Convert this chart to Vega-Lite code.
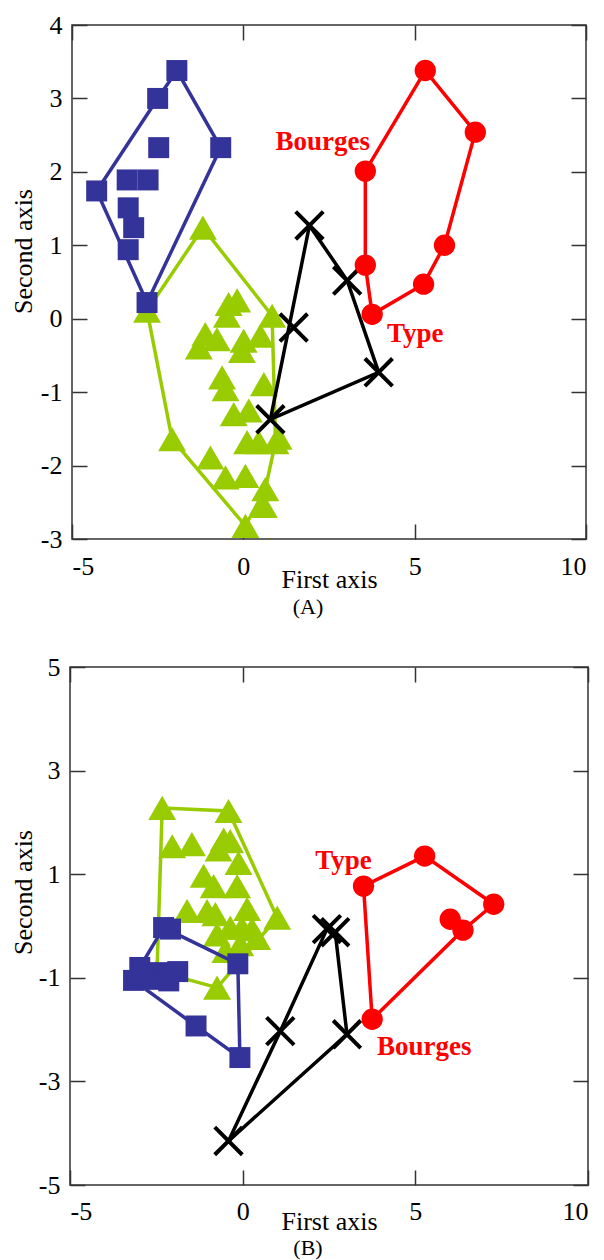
{
  "$schema": "https://vega.github.io/schema/vega-lite/v6.json",
  "autosize": {"type": "pad"},
  "padding": {"left": 9, "top": 11, "right": 0, "bottom": 0},
  "background": "white",
  "spacing": 128,
  "bounds": "flush",
  "center": true,
  "config": {
    "font": "Liberation Serif",
    "view": {"stroke": "#333333", "strokeWidth": 1.5},
    "axis": {
      "grid": false, "domain": false, "tickColor": "#333333", "tickWidth": 1.5, "tickSize": -15,
      "labelFont": "Liberation Serif", "labelFontSize": 26, "labelColor": "#000000",
      "titleFont": "Liberation Serif", "titleFontSize": 26, "titleFontWeight": "normal", "titleColor": "#000000",
      "labelExpr": "'' + datum.value"
    }
  },
  "datasets": {
    "ptsA": [
      {"g": "squares", "x": -4.28, "y": 1.74}, {"g": "squares", "x": -1.94, "y": 3.38}, {"g": "squares", "x": -2.5, "y": 3.0},
      {"g": "squares", "x": -0.66, "y": 2.33}, {"g": "squares", "x": -2.47, "y": 2.33}, {"g": "squares", "x": -3.39, "y": 1.89},
      {"g": "squares", "x": -2.78, "y": 1.89}, {"g": "squares", "x": -3.36, "y": 1.51}, {"g": "squares", "x": -3.2, "y": 1.24},
      {"g": "squares", "x": -3.36, "y": 0.94}, {"g": "squares", "x": -2.81, "y": 0.22},
      {"g": "triangles", "x": -1.18, "y": 1.24}, {"g": "triangles", "x": -2.81, "y": 0.11}, {"g": "triangles", "x": -0.43, "y": 0.2},
      {"g": "triangles", "x": -0.18, "y": 0.25}, {"g": "triangles", "x": -0.48, "y": 0.04}, {"g": "triangles", "x": 0.84, "y": 0.04},
      {"g": "triangles", "x": -1.11, "y": -0.21}, {"g": "triangles", "x": -0.77, "y": -0.28}, {"g": "triangles", "x": -1.3, "y": -0.39},
      {"g": "triangles", "x": 0.01, "y": -0.3}, {"g": "triangles", "x": 0.5, "y": -0.23}, {"g": "triangles", "x": -0.04, "y": -0.44},
      {"g": "triangles", "x": -0.62, "y": -0.8}, {"g": "triangles", "x": -0.52, "y": -0.96}, {"g": "triangles", "x": 0.6, "y": -0.89},
      {"g": "triangles", "x": -0.28, "y": -1.3}, {"g": "triangles", "x": 0.16, "y": -1.25}, {"g": "triangles", "x": 1.03, "y": -1.62},
      {"g": "triangles", "x": 0.11, "y": -1.68}, {"g": "triangles", "x": 0.45, "y": -1.68}, {"g": "triangles", "x": 0.94, "y": -1.68},
      {"g": "triangles", "x": -2.08, "y": -1.64}, {"g": "triangles", "x": -0.96, "y": -1.89}, {"g": "triangles", "x": -0.52, "y": -2.16},
      {"g": "triangles", "x": 0.06, "y": -2.14}, {"g": "triangles", "x": 0.64, "y": -2.32}, {"g": "triangles", "x": 0.6, "y": -2.55},
      {"g": "triangles", "x": 0.06, "y": -2.82},
      {"g": "crosses", "x": 1.93, "y": 1.27}, {"g": "crosses", "x": 3.03, "y": 0.52}, {"g": "crosses", "x": 3.95, "y": -0.73},
      {"g": "crosses", "x": 1.47, "y": -0.12}, {"g": "crosses", "x": 0.79, "y": -1.37},
      {"g": "circles", "x": 5.31, "y": 3.38}, {"g": "circles", "x": 6.77, "y": 2.54}, {"g": "circles", "x": 3.56, "y": 2.01},
      {"g": "circles", "x": 5.87, "y": 1.0}, {"g": "circles", "x": 3.56, "y": 0.73}, {"g": "circles", "x": 5.26, "y": 0.47},
      {"g": "circles", "x": 3.76, "y": 0.06}
    ],
    "hullA": [
      {"g": "squares", "ord": 1, "x": -4.28, "y": 1.74}, {"g": "squares", "ord": 2, "x": -2.5, "y": 3.0}, {"g": "squares", "ord": 3, "x": -1.94, "y": 3.38},
      {"g": "squares", "ord": 4, "x": -0.66, "y": 2.33}, {"g": "squares", "ord": 5, "x": -2.81, "y": 0.22}, {"g": "squares", "ord": 6, "x": -4.28, "y": 1.74},
      {"g": "triangles", "ord": 1, "x": -1.18, "y": 1.24}, {"g": "triangles", "ord": 2, "x": 0.84, "y": 0.04}, {"g": "triangles", "ord": 3, "x": 0.94, "y": -1.68},
      {"g": "triangles", "ord": 4, "x": 0.64, "y": -2.32}, {"g": "triangles", "ord": 5, "x": 0.06, "y": -2.82}, {"g": "triangles", "ord": 6, "x": -2.08, "y": -1.64},
      {"g": "triangles", "ord": 7, "x": -2.81, "y": 0.11}, {"g": "triangles", "ord": 8, "x": -1.18, "y": 1.24},
      {"g": "crosses", "ord": 1, "x": 1.93, "y": 1.27}, {"g": "crosses", "ord": 2, "x": 3.03, "y": 0.52}, {"g": "crosses", "ord": 3, "x": 3.95, "y": -0.73},
      {"g": "crosses", "ord": 4, "x": 0.79, "y": -1.37}, {"g": "crosses", "ord": 5, "x": 1.93, "y": 1.27},
      {"g": "circles", "ord": 1, "x": 5.31, "y": 3.38}, {"g": "circles", "ord": 2, "x": 6.77, "y": 2.54}, {"g": "circles", "ord": 3, "x": 5.87, "y": 1.0},
      {"g": "circles", "ord": 4, "x": 5.26, "y": 0.47}, {"g": "circles", "ord": 5, "x": 3.76, "y": 0.06}, {"g": "circles", "ord": 6, "x": 3.56, "y": 0.73},
      {"g": "circles", "ord": 7, "x": 3.56, "y": 2.01}, {"g": "circles", "ord": 8, "x": 5.31, "y": 3.38}
    ],
    "labA": [
      {"label": "Bourges", "x": 2.32, "y": 2.4}, {"label": "Type", "x": 5.02, "y": -0.21}
    ],
    "ptsB": [
      {"g": "triangles", "x": -2.33, "y": 2.28}, {"g": "triangles", "x": -0.41, "y": 2.22}, {"g": "triangles", "x": -2.04, "y": 1.54},
      {"g": "triangles", "x": -1.47, "y": 1.58}, {"g": "triangles", "x": -0.55, "y": 1.67}, {"g": "triangles", "x": -0.36, "y": 1.64},
      {"g": "triangles", "x": -0.7, "y": 1.48}, {"g": "triangles", "x": -0.12, "y": 1.22}, {"g": "triangles", "x": -1.13, "y": 0.97},
      {"g": "triangles", "x": -0.84, "y": 0.77}, {"g": "triangles", "x": -0.16, "y": 0.77}, {"g": "triangles", "x": -1.61, "y": 0.29},
      {"g": "triangles", "x": -1.03, "y": 0.29}, {"g": "triangles", "x": -0.79, "y": 0.23}, {"g": "triangles", "x": 0.13, "y": 0.33},
      {"g": "triangles", "x": 1.0, "y": 0.16}, {"g": "triangles", "x": -0.36, "y": -0.03}, {"g": "triangles", "x": -0.02, "y": -0.03},
      {"g": "triangles", "x": 0.27, "y": -0.06}, {"g": "triangles", "x": 0.42, "y": -0.23}, {"g": "triangles", "x": -0.74, "y": -0.16},
      {"g": "triangles", "x": -0.5, "y": -0.48}, {"g": "triangles", "x": -0.07, "y": -0.35}, {"g": "triangles", "x": -0.74, "y": -1.19},
      {"g": "triangles", "x": -2.48, "y": -0.87},
      {"g": "squares", "x": -2.29, "y": -0.03}, {"g": "squares", "x": -2.09, "y": -0.06}, {"g": "squares", "x": -0.14, "y": -0.73},
      {"g": "squares", "x": -2.98, "y": -0.8}, {"g": "squares", "x": -1.88, "y": -0.88}, {"g": "squares", "x": -2.43, "y": -0.9},
      {"g": "squares", "x": -3.16, "y": -1.05}, {"g": "squares", "x": -2.67, "y": -1.03}, {"g": "squares", "x": -2.14, "y": -1.06},
      {"g": "squares", "x": -1.35, "y": -1.93}, {"g": "squares", "x": -0.08, "y": -2.54},
      {"g": "crosses", "x": 2.44, "y": -0.06}, {"g": "crosses", "x": 2.68, "y": -0.12}, {"g": "crosses", "x": 3.02, "y": -2.09},
      {"g": "crosses", "x": 1.09, "y": -2.03}, {"g": "crosses", "x": -0.41, "y": -4.15},
      {"g": "circles", "x": 3.5, "y": 0.77}, {"g": "circles", "x": 5.27, "y": 1.35}, {"g": "circles", "x": 7.27, "y": 0.42},
      {"g": "circles", "x": 6.01, "y": 0.13}, {"g": "circles", "x": 6.38, "y": -0.08}, {"g": "circles", "x": 3.75, "y": -1.8}
    ],
    "hullB": [
      {"g": "triangles", "ord": 1, "x": -2.33, "y": 2.28}, {"g": "triangles", "ord": 2, "x": -0.41, "y": 2.22}, {"g": "triangles", "ord": 3, "x": 1.0, "y": 0.16},
      {"g": "triangles", "ord": 4, "x": -0.74, "y": -1.19}, {"g": "triangles", "ord": 5, "x": -2.48, "y": -0.87}, {"g": "triangles", "ord": 6, "x": -2.33, "y": 2.28},
      {"g": "squares", "ord": 1, "x": -2.29, "y": -0.03}, {"g": "squares", "ord": 2, "x": -0.14, "y": -0.73}, {"g": "squares", "ord": 3, "x": -0.08, "y": -2.54},
      {"g": "squares", "ord": 4, "x": -1.35, "y": -1.93}, {"g": "squares", "ord": 5, "x": -3.16, "y": -1.05}, {"g": "squares", "ord": 6, "x": -2.98, "y": -0.8},
      {"g": "squares", "ord": 7, "x": -2.29, "y": -0.03},
      {"g": "crosses", "ord": 1, "x": -0.41, "y": -4.15}, {"g": "crosses", "ord": 2, "x": 1.09, "y": -2.03}, {"g": "crosses", "ord": 3, "x": 2.44, "y": -0.06},
      {"g": "crosses", "ord": 4, "x": 2.68, "y": -0.12}, {"g": "crosses", "ord": 5, "x": 3.02, "y": -2.09}, {"g": "crosses", "ord": 6, "x": -0.41, "y": -4.15},
      {"g": "circles", "ord": 1, "x": 3.5, "y": 0.77}, {"g": "circles", "ord": 2, "x": 5.27, "y": 1.35}, {"g": "circles", "ord": 3, "x": 7.27, "y": 0.42},
      {"g": "circles", "ord": 4, "x": 6.38, "y": -0.08}, {"g": "circles", "ord": 5, "x": 3.75, "y": -1.8}, {"g": "circles", "ord": 6, "x": 3.5, "y": 0.77}
    ],
    "labB": [
      {"label": "Type", "x": 2.92, "y": 1.25}, {"label": "Bourges", "x": 5.26, "y": -2.34}
    ]
  },
  "vconcat": [
    {
      "width": 514, "height": 514,
      "title": {"text": "(A)", "orient": "bottom", "frame": "group", "anchor": "middle", "baseline": "alphabetic", "offset": 22, "dx": -21, "fontSize": 22, "font": "Liberation Serif", "fontWeight": "normal", "color": "#000000"},
      "resolve": {"axis": {"x": "independent", "y": "independent"}},
      "layer": [
        {"data": {"name": "hullA"}, "mark": {"type": "point", "opacity": 0},
         "encoding": {
           "x": {"field": "x", "type": "quantitative", "scale": {"domain": [-5, 10], "nice": false, "zero": false},
                 "axis": {"orient": "bottom", "values": [-5, 0, 5, 10], "title": "First axis", "labelPadding": 29, "titleBaseline": "alphabetic", "titleY": 48}},
           "y": {"field": "y", "type": "quantitative", "scale": {"domain": [-3, 4], "nice": false, "zero": false},
                 "axis": {"orient": "left", "values": [-3, -2, -1, 0, 1, 2, 3, 4], "title": "Second axis", "labelPadding": 25, "titleX": -49, "titleY": 226, "titleBaseline": "middle", "titleAlign": "center", "titleAngle": -90}}
         }},
        {"data": {"name": "hullA"}, "mark": {"type": "point", "opacity": 0},
         "encoding": {
           "x": {"field": "x", "type": "quantitative", "scale": {"domain": [-5, 10], "nice": false, "zero": false},
                 "axis": {"orient": "top", "values": [-5, 0, 5, 10], "labels": false, "title": null}},
           "y": {"field": "y", "type": "quantitative", "scale": {"domain": [-3, 4], "nice": false, "zero": false},
                 "axis": {"orient": "right", "values": [-3, -2, -1, 0, 1, 2, 3, 4], "labels": false, "title": null}}
         }},
        {"data": {"name": "hullA"}, "transform": [{"filter": "datum.g === 'triangles'"}], "mark": {"type": "line", "color": "#99cc00", "strokeWidth": 3.5},
         "encoding": {"x": {"field": "x", "type": "quantitative", "axis": null}, "y": {"field": "y", "type": "quantitative", "axis": null}, "order": {"field": "ord", "type": "quantitative"}}},
        {"data": {"name": "ptsA"}, "transform": [{"filter": "datum.g === 'triangles'"}], "mark": {"type": "point", "shape": "triangle-up", "filled": true, "color": "#99cc00", "opacity": 1, "size": 780},
         "encoding": {"x": {"field": "x", "type": "quantitative", "axis": null}, "y": {"field": "y", "type": "quantitative", "axis": null}}},
        {"data": {"name": "hullA"}, "transform": [{"filter": "datum.g === 'squares'"}], "mark": {"type": "line", "color": "#333399", "strokeWidth": 3.5},
         "encoding": {"x": {"field": "x", "type": "quantitative", "axis": null}, "y": {"field": "y", "type": "quantitative", "axis": null}, "order": {"field": "ord", "type": "quantitative"}}},
        {"data": {"name": "ptsA"}, "transform": [{"filter": "datum.g === 'squares'"}], "mark": {"type": "point", "shape": "square", "filled": true, "color": "#333399", "opacity": 1, "size": 440},
         "encoding": {"x": {"field": "x", "type": "quantitative", "axis": null}, "y": {"field": "y", "type": "quantitative", "axis": null}}},
        {"data": {"name": "hullA"}, "transform": [{"filter": "datum.g === 'crosses'"}], "mark": {"type": "line", "color": "#000000", "strokeWidth": 3.5},
         "encoding": {"x": {"field": "x", "type": "quantitative", "axis": null}, "y": {"field": "y", "type": "quantitative", "axis": null}, "order": {"field": "ord", "type": "quantitative"}}},
        {"data": {"name": "ptsA"}, "transform": [{"filter": "datum.g === 'crosses'"}], "mark": {"type": "point", "shape": "M-1,-1L1,1M-1,1L1,-1", "filled": false, "color": "#000000", "opacity": 1, "strokeWidth": 4, "size": 760},
         "encoding": {"x": {"field": "x", "type": "quantitative", "axis": null}, "y": {"field": "y", "type": "quantitative", "axis": null}}},
        {"data": {"name": "hullA"}, "transform": [{"filter": "datum.g === 'circles'"}], "mark": {"type": "line", "color": "#ff0000", "strokeWidth": 3.5},
         "encoding": {"x": {"field": "x", "type": "quantitative", "axis": null}, "y": {"field": "y", "type": "quantitative", "axis": null}, "order": {"field": "ord", "type": "quantitative"}}},
        {"data": {"name": "ptsA"}, "transform": [{"filter": "datum.g === 'circles'"}], "mark": {"type": "point", "shape": "circle", "filled": true, "color": "#ff0000", "opacity": 1, "size": 455},
         "encoding": {"x": {"field": "x", "type": "quantitative", "axis": null}, "y": {"field": "y", "type": "quantitative", "axis": null}}},
        {"data": {"name": "labA"}, "mark": {"type": "text", "font": "Liberation Serif", "fontWeight": "bold", "fontSize": 27, "color": "#ff0000", "align": "center", "baseline": "middle"},
         "encoding": {"x": {"field": "x", "type": "quantitative", "axis": null}, "y": {"field": "y", "type": "quantitative", "axis": null}, "text": {"field": "label"}}}
      ]
    },
    {
      "width": 518, "height": 518,
      "title": {"text": "(B)", "orient": "bottom", "frame": "group", "anchor": "middle", "baseline": "alphabetic", "offset": 21, "dx": -21, "fontSize": 22, "font": "Liberation Serif", "fontWeight": "normal", "color": "#000000"},
      "resolve": {"axis": {"x": "independent", "y": "independent"}},
      "layer": [
        {"data": {"name": "hullB"}, "mark": {"type": "point", "opacity": 0},
         "encoding": {
           "x": {"field": "x", "type": "quantitative", "scale": {"domain": [-5, 10], "nice": false, "zero": false},
                 "axis": {"orient": "bottom", "values": [-5, 0, 5, 10], "title": "First axis", "labelPadding": 28, "titleBaseline": "alphabetic", "titleY": 44}},
           "y": {"field": "y", "type": "quantitative", "scale": {"domain": [-5, 5], "nice": false, "zero": false},
                 "axis": {"orient": "left", "values": [-5, -3, -1, 1, 3, 5], "title": "Second axis", "labelPadding": 25, "titleX": -47, "titleY": 225, "titleBaseline": "middle", "titleAlign": "center", "titleAngle": -90}}
         }},
        {"data": {"name": "hullB"}, "mark": {"type": "point", "opacity": 0},
         "encoding": {
           "x": {"field": "x", "type": "quantitative", "scale": {"domain": [-5, 10], "nice": false, "zero": false},
                 "axis": {"orient": "top", "values": [-5, 0, 5, 10], "labels": false, "title": null}},
           "y": {"field": "y", "type": "quantitative", "scale": {"domain": [-5, 5], "nice": false, "zero": false},
                 "axis": {"orient": "right", "values": [-5, -3, -1, 1, 3, 5], "labels": false, "title": null}}
         }},
        {"data": {"name": "hullB"}, "transform": [{"filter": "datum.g === 'triangles'"}], "mark": {"type": "line", "color": "#99cc00", "strokeWidth": 3.5},
         "encoding": {"x": {"field": "x", "type": "quantitative", "axis": null}, "y": {"field": "y", "type": "quantitative", "axis": null}, "order": {"field": "ord", "type": "quantitative"}}},
        {"data": {"name": "ptsB"}, "transform": [{"filter": "datum.g === 'triangles'"}], "mark": {"type": "point", "shape": "triangle-up", "filled": true, "color": "#99cc00", "opacity": 1, "size": 780},
         "encoding": {"x": {"field": "x", "type": "quantitative", "axis": null}, "y": {"field": "y", "type": "quantitative", "axis": null}}},
        {"data": {"name": "hullB"}, "transform": [{"filter": "datum.g === 'squares'"}], "mark": {"type": "line", "color": "#333399", "strokeWidth": 3.5},
         "encoding": {"x": {"field": "x", "type": "quantitative", "axis": null}, "y": {"field": "y", "type": "quantitative", "axis": null}, "order": {"field": "ord", "type": "quantitative"}}},
        {"data": {"name": "ptsB"}, "transform": [{"filter": "datum.g === 'squares'"}], "mark": {"type": "point", "shape": "square", "filled": true, "color": "#333399", "opacity": 1, "size": 440},
         "encoding": {"x": {"field": "x", "type": "quantitative", "axis": null}, "y": {"field": "y", "type": "quantitative", "axis": null}}},
        {"data": {"name": "hullB"}, "transform": [{"filter": "datum.g === 'crosses'"}], "mark": {"type": "line", "color": "#000000", "strokeWidth": 3.5},
         "encoding": {"x": {"field": "x", "type": "quantitative", "axis": null}, "y": {"field": "y", "type": "quantitative", "axis": null}, "order": {"field": "ord", "type": "quantitative"}}},
        {"data": {"name": "ptsB"}, "transform": [{"filter": "datum.g === 'crosses'"}], "mark": {"type": "point", "shape": "M-1,-1L1,1M-1,1L1,-1", "filled": false, "color": "#000000", "opacity": 1, "strokeWidth": 4, "size": 760},
         "encoding": {"x": {"field": "x", "type": "quantitative", "axis": null}, "y": {"field": "y", "type": "quantitative", "axis": null}}},
        {"data": {"name": "hullB"}, "transform": [{"filter": "datum.g === 'circles'"}], "mark": {"type": "line", "color": "#ff0000", "strokeWidth": 3.5},
         "encoding": {"x": {"field": "x", "type": "quantitative", "axis": null}, "y": {"field": "y", "type": "quantitative", "axis": null}, "order": {"field": "ord", "type": "quantitative"}}},
        {"data": {"name": "ptsB"}, "transform": [{"filter": "datum.g === 'circles'"}], "mark": {"type": "point", "shape": "circle", "filled": true, "color": "#ff0000", "opacity": 1, "size": 455},
         "encoding": {"x": {"field": "x", "type": "quantitative", "axis": null}, "y": {"field": "y", "type": "quantitative", "axis": null}}},
        {"data": {"name": "labB"}, "mark": {"type": "text", "font": "Liberation Serif", "fontWeight": "bold", "fontSize": 27, "color": "#ff0000", "align": "center", "baseline": "middle"},
         "encoding": {"x": {"field": "x", "type": "quantitative", "axis": null}, "y": {"field": "y", "type": "quantitative", "axis": null}, "text": {"field": "label"}}}
      ]
    }
  ]
}
